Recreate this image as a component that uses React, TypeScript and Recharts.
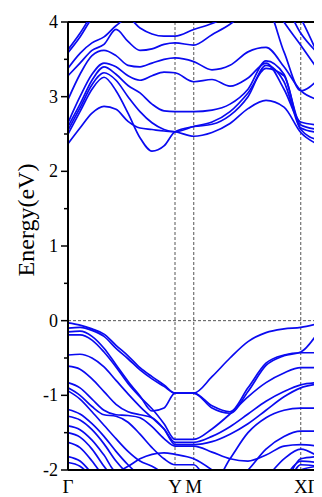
import { Line, LineChart, ReferenceLine, XAxis, YAxis } from 'recharts';

// k-path positions (fraction of total path length): Γ ... Y, M, ... X, Γ
const kPoints = [
  0, 0.048, 0.096, 0.144, 0.192, 0.24, 0.288, 0.336, 0.384, 0.428, 0.503, 0.576, 0.648, 0.72, 0.792,
  0.864, 0.931, 1,
];
const kTicks = [0, 0.428, 0.503, 0.931, 1];
const kLabels = ['Γ', 'Y', 'M', 'X', 'Γ'];
const energyTicks = [-2, -1.5, -1, -0.5, 0, 0.5, 1, 1.5, 2, 2.5, 3, 3.5, 4];

// conduction bands (eV)
const cb1 = [2.37, 2.58, 2.78, 2.87, 2.83, 2.67, 2.58, 2.56, 2.54, 2.53, 2.47, 2.52, 2.64, 2.84, 2.95, 2.86, 2.52, 2.36];
const cb2 = [2.5, 2.8, 3.1, 3.26, 3.08, 2.78, 2.45, 2.27, 2.34, 2.53, 2.6, 2.63, 2.75, 3.0, 3.42, 3.2, 2.56, 2.42];
const cb3 = [2.55, 2.85, 3.16, 3.32, 3.22, 3.0, 2.8, 2.65, 2.56, 2.53, 2.6, 2.66, 2.8, 3.05, 3.38, 3.28, 2.58, 2.52];
const cb4 = [2.6, 2.9, 3.22, 3.4, 3.3, 3.15, 3.05, 2.9, 2.81, 2.8, 2.8, 2.82, 2.9, 3.1, 3.48, 3.3, 2.62, 2.56];
const cb5 = [2.65, 3.0, 3.3, 3.45, 3.4, 3.28, 3.22, 3.28, 3.33, 3.32, 3.2, 3.23, 3.14, 3.25, 3.45, 3.1, 2.66, 2.62];
const cb6 = [2.96, 3.3, 3.55, 3.62, 3.55, 3.42, 3.4, 3.45, 3.5, 3.52, 3.47, 3.36, 3.42, 3.6, 3.66, 3.4, 3.08, 2.96];
const cb7 = [3.28, 3.45, 3.62, 3.7, 3.9, 3.74, 3.62, 3.64, 3.7, 3.72, 3.69, 3.83, 3.97, 4.15, 4.2, 3.6, 3.08, 3.23];
const cb8 = [3.38, 3.58, 3.72, 3.8, 3.95, 4.05, 3.92, 3.84, 3.81, 3.81, 3.9, 3.98, 4.1, 4.3, 4.4, 4.0, 3.69, 3.36];
const cb9 = [3.59, 3.8, 4.05, 4.2, 4.3, 4.2, 4.1, 4.1, 4.15, 4.2, 4.3, 4.5, 4.6, 4.6, 4.4, 4.25, 3.85, 3.58];
const cb10 = [3.63, 3.85, 4.1, 4.3, 4.4, 4.35, 4.3, 4.3, 4.35, 4.4, 4.5, 4.7, 4.8, 4.8, 4.7, 4.4, 4.05, 3.56];

// valence bands (eV)
const vb1 = [-0.03, -0.06, -0.11, -0.18, -0.33, -0.47, -0.63, -0.75, -0.86, -0.97, -0.97, -0.75, -0.5, -0.28, -0.16, -0.11, -0.09, -0.04];
const vb2 = [-0.1, -0.09, -0.13, -0.21, -0.37, -0.51, -0.66, -0.78, -0.88, -0.97, -0.97, -1.17, -1.24, -0.95, -0.6, -0.47, -0.42, -0.16];
const vb3 = [-0.15, -0.14, -0.21, -0.37, -0.59, -0.81, -1.01, -1.21, -1.17, -0.97, -0.97, -1.14, -1.22, -0.9, -0.57, -0.46, -0.43, -0.43];
const vb4 = [-0.19, -0.19, -0.26, -0.42, -0.62, -0.84, -1.02, -1.18, -1.38, -1.59, -1.59, -1.45, -1.25, -1.02, -0.83, -0.7, -0.63, -0.63];
const vb5 = [-0.46, -0.45, -0.5, -0.62, -0.8, -0.98, -1.15, -1.3, -1.45, -1.63, -1.63, -1.55, -1.42, -1.25, -1.08, -0.95, -0.86, -0.83];
const vb6 = [-0.61, -0.65, -0.78, -0.95, -1.12, -1.22, -1.26, -1.3, -1.45, -1.66, -1.66, -1.62, -1.52, -1.38, -1.2, -1.02, -0.9, -0.85];
const vb7 = [-0.83, -0.9, -1.05, -1.2, -1.26, -1.27, -1.3, -1.42, -1.58, -1.68, -1.68, -1.76, -1.85, -1.88, -1.8, -1.68, -1.66, -1.68];
const vb8 = [-0.9, -1.0, -1.15, -1.26, -1.28, -1.36, -1.52, -1.7, -1.85, -1.93, -1.93, -2.2, -1.85, -1.5, -1.3, -1.2, -1.17, -1.17];
const vb9 = [-0.94, -1.05, -1.22, -1.4, -1.58, -1.75, -1.88, -1.95, -2.05, -2.15, -2.3, -2.35, -2.2, -2.0, -1.72, -1.55, -1.48, -1.48];
const vb10 = [-1.19, -1.25, -1.38, -1.55, -1.75, -1.93, -2.08, -2.2, -2.3, -2.35, -2.4, -2.45, -2.4, -2.25, -2.1, -1.85, -1.72, -1.82];
const vb11 = [-1.28, -1.33, -1.46, -1.65, -1.88, -2.05, -2.15, -2.2, -2.25, -2.3, -2.4, -2.5, -2.5, -2.4, -2.3, -2.1, -1.88, -1.9];
const vb12 = [-1.41, -1.46, -1.6, -1.8, -2.02, -1.95, -1.85, -1.79, -1.77, -1.79, -1.85, -2.0, -2.2, -2.3, -2.3, -2.2, -2.0, -1.95];
const vb13 = [-1.5, -1.56, -1.72, -1.95, -2.15, -2.3, -2.4, -2.45, -2.5, -2.5, -2.5, -2.5, -2.5, -2.5, -2.4, -2.2, -1.85, -1.82];
const vb14 = [-1.63, -1.7, -1.88, -2.1, -2.3, -2.4, -2.5, -2.5, -2.5, -2.5, -2.5, -2.5, -2.5, -2.5, -2.5, -2.3, -1.93, -1.95];
const vb15 = [-1.82, -1.88, -2.05, -2.25, -2.4, -2.5, -2.5, -2.5, -2.5, -2.5, -2.5, -2.5, -2.5, -2.5, -2.5, -2.5, -2.3, -2.2];
const vb16 = [-1.9, -1.95, -2.1, -2.3, -2.45, -2.5, -2.5, -2.5, -2.5, -2.5, -2.5, -2.5, -2.5, -2.5, -2.5, -2.5, -2.4, -2.3];

const bands = [
  cb1, cb2, cb3, cb4, cb5, cb6, cb7, cb8, cb9, cb10,
  vb1, vb2, vb3, vb4, vb5, vb6, vb7, vb8, vb9, vb10, vb11, vb12, vb13, vb14, vb15, vb16,
];

const data = kPoints.map((k, i) => {
  const row: Record<string, number> = { k };
  bands.forEach((b, j) => {
    row[`b${j}`] = b[i];
  });
  return row;
});

const FONT = '"Liberation Serif", "Times New Roman", serif';
const AXIS_X = 60; // left edge of plot inside the svg
const PLOT_BOTTOM = 462;

const EnergyTick = (props: any) => {
  const { y, payload } = props;
  const v = payload.value as number;
  const major = Number.isInteger(v);
  return (
    <g>
      <line x1={AXIS_X - (major ? 7 : 4)} x2={AXIS_X} y1={y} y2={y} stroke='#000' strokeWidth={1.5} />
      {major && (
        <text x={AXIS_X - 10} y={y + 6} textAnchor='end' fontFamily={FONT} fontSize={18} fill='#000'>
          {v}
        </text>
      )}
    </g>
  );
};

const KTick = (props: any) => {
  const { x, index } = props;
  const dx = index === kLabels.length - 1 ? -5 : 0;
  return (
    <text x={x + dx} y={PLOT_BOTTOM + 23} textAnchor='middle' fontFamily={FONT} fontSize={19} fill='#000'>
      {kLabels[index]}
    </text>
  );
};

const EnergyLabel = () => (
  <text
    transform='translate(26, 212) rotate(-90)'
    textAnchor='middle'
    fontFamily={FONT}
    fontSize={24}
    fill='#000'
  >
    Energy(eV)
  </text>
);

export default function App() {
  return (
    <LineChart width={314} height={488} data={data} margin={{ top: 14, right: 4, bottom: 0, left: 0 }}>
      <XAxis
        type='number'
        dataKey='k'
        domain={[0, 1]}
        ticks={kTicks}
        tickLine={false}
        axisLine={{ stroke: '#000', strokeWidth: 2 }}
        tick={<KTick />}
        height={26}
        interval={0}
      />
      <YAxis
        type='number'
        domain={[-2, 4]}
        ticks={energyTicks}
        allowDataOverflow
        tickLine={false}
        axisLine={{ stroke: '#000', strokeWidth: 2 }}
        tick={<EnergyTick />}
        width={60}
        interval={0}
        label={<EnergyLabel />}
      />
      {kTicks.slice(1, 4).map((k) => (
        <ReferenceLine key={k} x={k} stroke='#555' strokeDasharray='3 2' strokeWidth={1} />
      ))}
      <ReferenceLine y={0} stroke='#555' strokeDasharray='3 2' strokeWidth={1} />
      <ReferenceLine y={4} stroke='#000' strokeWidth={2} />
      <ReferenceLine x={1} stroke='#000' strokeWidth={2} />
      {bands.map((_, j) => (
        <Line
          key={j}
          type='monotone'
          dataKey={`b${j}`}
          stroke='#0a0af0'
          strokeWidth={1.7}
          dot={false}
          isAnimationActive={false}
        />
      ))}
    </LineChart>
  );
}
